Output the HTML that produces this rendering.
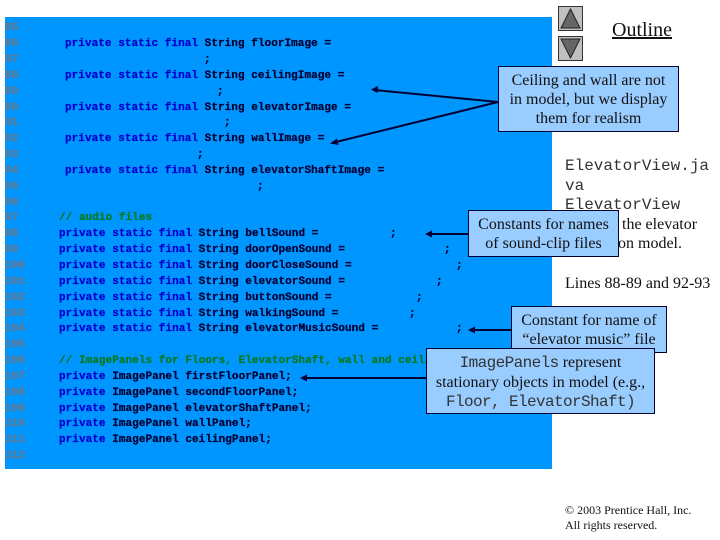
<!DOCTYPE html>
<html><head><meta charset="utf-8"><style>
html,body{margin:0;padding:0;width:720px;height:540px;overflow:hidden;background:#fff}
div{position:absolute;white-space:pre}
.c{font:bold 11px/14px "Liberation Mono",monospace;color:#000033;letter-spacing:.05px;-webkit-text-stroke:.25px currentColor;filter:blur(.3px)}
.n{color:#66788c;left:5px}
.k{color:#0000cc}.g{color:#007a1e}
.s{font:16px/19px "Liberation Serif",serif;color:#111}
.m{font:16px/19px "Liberation Mono",monospace;color:#333}
.b{background:#99ccff;border:1px solid #000033;box-sizing:border-box;text-align:center;font:16px/19px "Liberation Serif",serif;color:#111}
.b span{font:16px/19px "Liberation Mono",monospace;color:#333}
</style></head><body>
<div style="left:5px;top:17px;width:547px;height:452px;background:#0096ff"></div>

<div class="c n" style="top:21px">85</div>
<div class="c n" style="top:37px">86</div><div class="c" style="left:65px;top:37px"><span class="k">private static final</span> String floorImage =</div>
<div class="c n" style="top:53px">87</div><div class="c" style="left:204px;top:53px">;</div>
<div class="c n" style="top:69px">88</div><div class="c" style="left:65px;top:69px"><span class="k">private static final</span> String ceilingImage =</div>
<div class="c n" style="top:85px">89</div><div class="c" style="left:217px;top:85px">;</div>
<div class="c n" style="top:101px">90</div><div class="c" style="left:65px;top:101px"><span class="k">private static final</span> String elevatorImage =</div>
<div class="c n" style="top:116px">91</div><div class="c" style="left:224px;top:116px">;</div>
<div class="c n" style="top:132px">92</div><div class="c" style="left:65px;top:132px"><span class="k">private static final</span> String wallImage =</div>
<div class="c n" style="top:148px">93</div><div class="c" style="left:197px;top:148px">;</div>
<div class="c n" style="top:164px">94</div><div class="c" style="left:65px;top:164px"><span class="k">private static final</span> String elevatorShaftImage =</div>
<div class="c n" style="top:180px">95</div><div class="c" style="left:257px;top:180px">;</div>
<div class="c n" style="top:196px">96</div>
<div class="c n" style="top:211px">97</div><div class="c g" style="left:59px;top:211px">// audio files</div>
<div class="c n" style="top:227px">98</div><div class="c" style="left:59px;top:227px"><span class="k">private static final</span> String bellSound =</div><div class="c" style="left:390px;top:227px">;</div>
<div class="c n" style="top:243px">99</div><div class="c" style="left:59px;top:243px"><span class="k">private static final</span> String doorOpenSound =</div><div class="c" style="left:444px;top:243px">;</div>
<div class="c n" style="top:259px">100</div><div class="c" style="left:59px;top:259px"><span class="k">private static final</span> String doorCloseSound =</div><div class="c" style="left:456px;top:259px">;</div>
<div class="c n" style="top:275px">101</div><div class="c" style="left:59px;top:275px"><span class="k">private static final</span> String elevatorSound =</div><div class="c" style="left:436px;top:275px">;</div>
<div class="c n" style="top:291px">102</div><div class="c" style="left:59px;top:291px"><span class="k">private static final</span> String buttonSound =</div><div class="c" style="left:416px;top:291px">;</div>
<div class="c n" style="top:307px">103</div><div class="c" style="left:59px;top:307px"><span class="k">private static final</span> String walkingSound =</div><div class="c" style="left:409px;top:307px">;</div>
<div class="c n" style="top:322px">104</div><div class="c" style="left:59px;top:322px"><span class="k">private static final</span> String elevatorMusicSound =</div><div class="c" style="left:456px;top:322px">;</div>
<div class="c n" style="top:338px">105</div>
<div class="c n" style="top:354px">106</div><div class="c g" style="left:59px;top:354px">// ImagePanels for Floors, ElevatorShaft, wall and ceiling</div>
<div class="c n" style="top:370px">107</div><div class="c" style="left:59px;top:370px"><span class="k">private</span> ImagePanel firstFloorPanel;</div>
<div class="c n" style="top:386px">108</div><div class="c" style="left:59px;top:386px"><span class="k">private</span> ImagePanel secondFloorPanel;</div>
<div class="c n" style="top:402px">109</div><div class="c" style="left:59px;top:402px"><span class="k">private</span> ImagePanel elevatorShaftPanel;</div>
<div class="c n" style="top:417px">110</div><div class="c" style="left:59px;top:417px"><span class="k">private</span> ImagePanel wallPanel;</div>
<div class="c n" style="top:433px">111</div><div class="c" style="left:59px;top:433px"><span class="k">private</span> ImagePanel ceilingPanel;</div>
<div class="c n" style="top:449px">112</div>

<div class="s" style="left:612px;top:19px;font-size:20px;line-height:22px;text-decoration:underline">Outline</div>
<div class="m" style="left:565px;top:157px">ElevatorView.ja</div>
<div class="m" style="left:565px;top:177px">va</div>
<div class="m" style="left:565px;top:196px">ElevatorView</div>
<div class="s" style="left:622px;top:215px">the elevator</div>
<div class="s" style="left:618px;top:234px">on model.</div>
<div class="s" style="left:565px;top:274px">Lines 88-89 and 92-93</div>
<div class="s" style="left:652px;top:390px">.</div>
<div class="s" style="left:565px;top:503px;font-size:12px;line-height:15px">© 2003 Prentice Hall, Inc.
All rights reserved.</div>

<svg width="720" height="540" style="position:absolute;left:0;top:0">
<rect x="558.5" y="6.5" width="24" height="24" fill="#c0c0c0" stroke="#333"/>
<polygon points="570.5,9 580,28 561,28" fill="#666" stroke="#222"/>
<rect x="558.5" y="36.5" width="24" height="24" fill="#c0c0c0" stroke="#333"/>
<polygon points="561,39 580,39 570.5,58" fill="#666" stroke="#222"/>
<g stroke="#000033" stroke-width="2" fill="none">
<line x1="498" y1="102" x2="375" y2="90"/>
<line x1="498" y1="102" x2="336" y2="142"/>
<line x1="468" y1="234" x2="430" y2="234"/>
<line x1="512" y1="330" x2="472" y2="330"/>
<line x1="426" y1="378" x2="304" y2="378"/>
</g>
<g fill="#000033">
<polygon points="371,89.5 378,86 377.5,93"/>
<polygon points="330,143.5 337,138.5 338.500,145"/>
<polygon points="425,234 432,230.500 432,237.500"/>
<polygon points="468,330 475,326.500 475,333.500"/>
<polygon points="300,378 307,374.500 307,381.500"/>
</g>
</svg>

<div class="b" style="left:498px;top:66px;width:181px;height:66px;padding-top:4px">Ceiling and wall are not
in model, but we display
them for realism</div>
<div class="b" style="left:468px;top:210px;width:151px;height:47px;padding-top:4px">Constants for names
of sound-clip files</div>
<div class="b" style="left:511px;top:306px;width:156px;height:47px;padding-top:4px">Constant for name of
“elevator music” file</div>
<div class="b" style="left:426px;top:348px;width:229px;height:66px;padding-top:4px"><span style="letter-spacing:-.6px">ImagePanels</span> represent
stationary objects in model (e.g.,
<span style="letter-spacing:-.6px">Floor, ElevatorShaft)</span></div>
</body></html>
